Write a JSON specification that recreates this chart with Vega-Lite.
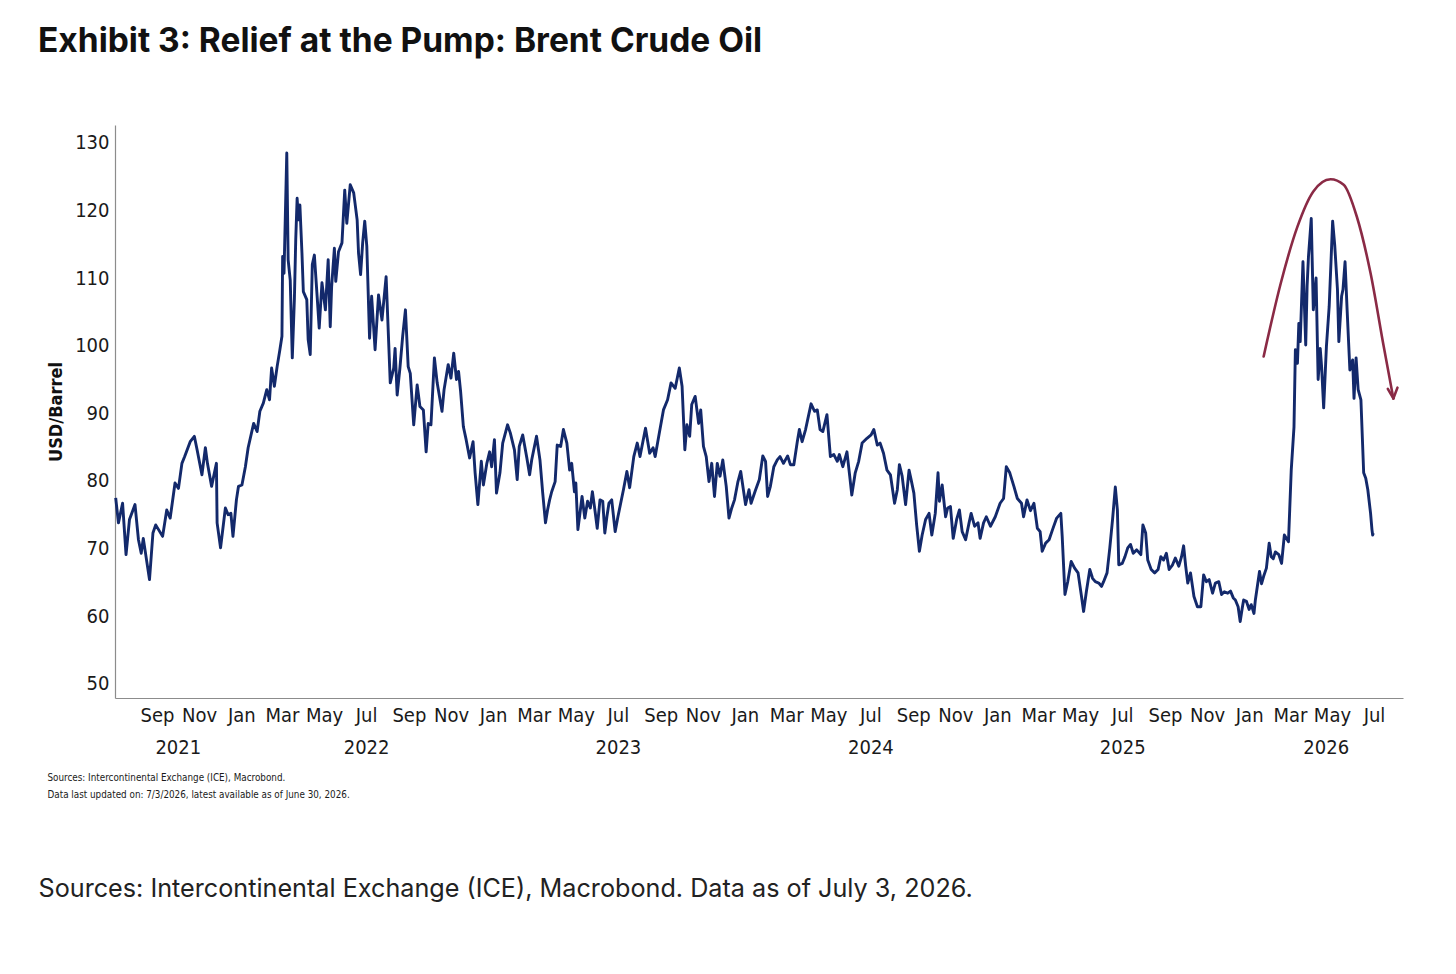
{
  "$schema": "https://vega.github.io/schema/vega-lite/v6.json",
  "autosize": {"type": "none"},
  "width": 1288,
  "height": 573,
  "padding": {"left": 115, "top": 125, "right": 53, "bottom": 276},
  "background": "white",
  "config": {"view": {"stroke": null}},
  "title": {
    "text": "Exhibit 3: Relief at the Pump: Brent Crude Oil",
    "anchor": "start",
    "frame": "group",
    "dx": -77,
    "offset": 40,
    "baseline": "alphabetic",
    "font": "Inter",
    "fontSize": 33.5,
    "fontWeight": 700,
    "color": "#111111"
  },
  "datasets": {
    "brent": [
      {"d":"2021-07-03","v":77.5},{"d":"2021-07-07","v":73.8},{"d":"2021-07-13","v":76.7},{"d":"2021-07-18","v":69.1},{"d":"2021-07-23","v":74.3},{"d":"2021-07-31","v":76.5},
      {"d":"2021-08-05","v":71.3},{"d":"2021-08-09","v":69.3},{"d":"2021-08-12","v":71.5},{"d":"2021-08-21","v":65.4},{"d":"2021-08-26","v":72.3},{"d":"2021-08-30","v":73.5},
      {"d":"2021-09-09","v":71.8},{"d":"2021-09-15","v":75.7},{"d":"2021-09-20","v":74.5},{"d":"2021-09-27","v":79.7},
      {"d":"2021-10-02","v":78.9},{"d":"2021-10-07","v":82.6},{"d":"2021-10-11","v":83.6},{"d":"2021-10-19","v":85.8},{"d":"2021-10-25","v":86.6},{"d":"2021-10-29","v":84.6},
      {"d":"2021-11-05","v":80.9},{"d":"2021-11-10","v":84.9},{"d":"2021-11-13","v":82.6},{"d":"2021-11-19","v":79.2},{"d":"2021-11-26","v":82.6},{"d":"2021-11-27","v":73.8},
      {"d":"2021-12-02","v":70.1},{"d":"2021-12-09","v":76.0},{"d":"2021-12-13","v":75.0},{"d":"2021-12-17","v":75.2},{"d":"2021-12-20","v":71.8},{"d":"2021-12-25","v":77.2},{"d":"2021-12-28","v":79.2},
      {"d":"2022-01-02","v":79.4},{"d":"2022-01-07","v":82.1},{"d":"2022-01-11","v":84.9},{"d":"2022-01-19","v":88.5},{"d":"2022-01-24","v":87.3},{"d":"2022-01-28","v":90.3},
      {"d":"2022-02-02","v":91.5},{"d":"2022-02-07","v":93.5},{"d":"2022-02-11","v":92.0},{"d":"2022-02-14","v":96.7},{"d":"2022-02-18","v":94.0},{"d":"2022-02-22","v":96.9},{"d":"2022-02-26","v":99.4},
      {"d":"2022-03-01","v":101.4},{"d":"2022-03-02","v":113.2},{"d":"2022-03-04","v":110.7},{"d":"2022-03-08","v":128.5},{"d":"2022-03-10","v":112.7},{"d":"2022-03-13","v":109.7},{"d":"2022-03-16","v":98.2},{"d":"2022-03-19","v":106.8},{"d":"2022-03-21","v":115.7},{"d":"2022-03-23","v":121.8},{"d":"2022-03-25","v":118.6},{"d":"2022-03-27","v":120.8},{"d":"2022-03-30","v":113.7},
      {"d":"2022-04-01","v":108.0},{"d":"2022-04-06","v":106.8},{"d":"2022-04-08","v":100.9},{"d":"2022-04-11","v":98.7},{"d":"2022-04-14","v":112.0},{"d":"2022-04-17","v":113.4},{"d":"2022-04-21","v":107.3},{"d":"2022-04-24","v":102.6},{"d":"2022-04-28","v":109.3},
      {"d":"2022-05-03","v":105.3},{"d":"2022-05-07","v":112.7},{"d":"2022-05-10","v":102.8},{"d":"2022-05-12","v":108.7},{"d":"2022-05-16","v":114.4},{"d":"2022-05-18","v":109.5},{"d":"2022-05-22","v":113.9},{"d":"2022-05-27","v":115.2},{"d":"2022-05-31","v":123.0},
      {"d":"2022-06-03","v":118.1},{"d":"2022-06-08","v":123.8},{"d":"2022-06-13","v":122.6},{"d":"2022-06-18","v":118.6},{"d":"2022-06-20","v":113.7},{"d":"2022-06-23","v":110.5},{"d":"2022-06-26","v":115.2},{"d":"2022-06-29","v":118.4},
      {"d":"2022-07-02","v":114.7},{"d":"2022-07-06","v":101.1},{"d":"2022-07-09","v":107.3},{"d":"2022-07-14","v":99.4},{"d":"2022-07-19","v":107.5},{"d":"2022-07-24","v":103.8},{"d":"2022-07-30","v":110.2},
      {"d":"2022-08-05","v":94.5},{"d":"2022-08-10","v":96.7},{"d":"2022-08-12","v":99.6},{"d":"2022-08-15","v":92.7},{"d":"2022-08-19","v":96.7},{"d":"2022-08-23","v":101.4},{"d":"2022-08-27","v":105.3},{"d":"2022-08-31","v":96.9},
      {"d":"2022-09-03","v":95.9},{"d":"2022-09-08","v":88.3},{"d":"2022-09-13","v":94.2},{"d":"2022-09-17","v":91.0},{"d":"2022-09-22","v":90.5},{"d":"2022-09-26","v":84.3},{"d":"2022-09-29","v":88.5},
      {"d":"2022-10-03","v":88.3},{"d":"2022-10-08","v":98.2},{"d":"2022-10-12","v":94.5},{"d":"2022-10-19","v":90.3},{"d":"2022-10-22","v":93.5},{"d":"2022-10-28","v":97.2},
      {"d":"2022-11-01","v":95.2},{"d":"2022-11-05","v":98.9},{"d":"2022-11-09","v":95.0},{"d":"2022-11-12","v":96.2},{"d":"2022-11-15","v":93.2},{"d":"2022-11-19","v":88.0},{"d":"2022-11-23","v":86.1},{"d":"2022-11-28","v":83.4},
      {"d":"2022-12-03","v":85.8},{"d":"2022-12-06","v":81.2},{"d":"2022-12-10","v":76.5},{"d":"2022-12-15","v":82.9},{"d":"2022-12-18","v":79.4},{"d":"2022-12-23","v":82.6},{"d":"2022-12-27","v":84.3},{"d":"2022-12-30","v":82.1},
      {"d":"2023-01-03","v":86.1},{"d":"2023-01-06","v":78.2},{"d":"2023-01-11","v":81.2},{"d":"2023-01-15","v":85.6},{"d":"2023-01-22","v":88.3},{"d":"2023-01-26","v":87.1},
      {"d":"2023-02-01","v":84.6},{"d":"2023-02-05","v":80.2},{"d":"2023-02-08","v":85.1},{"d":"2023-02-13","v":86.8},{"d":"2023-02-19","v":83.4},{"d":"2023-02-23","v":80.9},{"d":"2023-02-26","v":83.1},
      {"d":"2023-03-05","v":86.6},{"d":"2023-03-10","v":83.1},{"d":"2023-03-14","v":78.2},{"d":"2023-03-18","v":73.8},{"d":"2023-03-21","v":75.7},{"d":"2023-03-24","v":77.2},{"d":"2023-03-27","v":78.4},
      {"d":"2023-04-01","v":79.9},{"d":"2023-04-04","v":85.3},{"d":"2023-04-09","v":85.1},{"d":"2023-04-13","v":87.6},{"d":"2023-04-18","v":85.6},{"d":"2023-04-22","v":81.6},{"d":"2023-04-25","v":82.6},{"d":"2023-04-29","v":78.4},
      {"d":"2023-05-01","v":79.7},{"d":"2023-05-04","v":72.8},{"d":"2023-05-10","v":77.7},{"d":"2023-05-14","v":74.5},{"d":"2023-05-18","v":77.0},{"d":"2023-05-22","v":76.0},{"d":"2023-05-25","v":78.4},{"d":"2023-05-28","v":76.2},
      {"d":"2023-06-01","v":73.0},{"d":"2023-06-05","v":77.2},{"d":"2023-06-09","v":77.0},{"d":"2023-06-12","v":72.3},{"d":"2023-06-15","v":74.7},{"d":"2023-06-18","v":76.7},{"d":"2023-06-22","v":77.2},{"d":"2023-06-27","v":72.5},
      {"d":"2023-07-01","v":74.7},{"d":"2023-07-05","v":76.7},{"d":"2023-07-09","v":78.7},{"d":"2023-07-14","v":81.4},{"d":"2023-07-18","v":79.0},{"d":"2023-07-24","v":83.6},{"d":"2023-07-29","v":85.6},
      {"d":"2023-08-02","v":83.6},{"d":"2023-08-10","v":87.8},{"d":"2023-08-16","v":84.1},{"d":"2023-08-21","v":84.9},{"d":"2023-08-24","v":83.6},{"d":"2023-08-30","v":87.1},
      {"d":"2023-09-05","v":90.5},{"d":"2023-09-11","v":92.0},{"d":"2023-09-16","v":94.5},{"d":"2023-09-22","v":93.7},{"d":"2023-09-28","v":96.7},
      {"d":"2023-10-02","v":94.0},{"d":"2023-10-06","v":84.6},{"d":"2023-10-09","v":88.3},{"d":"2023-10-13","v":86.6},{"d":"2023-10-16","v":91.3},{"d":"2023-10-21","v":92.5},{"d":"2023-10-26","v":88.5},{"d":"2023-10-29","v":90.5},
      {"d":"2023-11-02","v":85.1},{"d":"2023-11-06","v":83.6},{"d":"2023-11-10","v":79.9},{"d":"2023-11-14","v":82.6},{"d":"2023-11-18","v":77.7},{"d":"2023-11-22","v":82.6},{"d":"2023-11-26","v":80.7},{"d":"2023-11-30","v":83.1},
      {"d":"2023-12-05","v":79.2},{"d":"2023-12-09","v":74.5},{"d":"2023-12-13","v":76.0},{"d":"2023-12-17","v":77.2},{"d":"2023-12-22","v":79.9},{"d":"2023-12-26","v":81.4},
      {"d":"2024-01-02","v":76.5},{"d":"2024-01-07","v":78.7},{"d":"2024-01-10","v":76.7},{"d":"2024-01-16","v":78.5},{"d":"2024-01-22","v":80.2},{"d":"2024-01-27","v":83.7},{"d":"2024-01-31","v":82.9},
      {"d":"2024-02-03","v":77.7},{"d":"2024-02-07","v":79.2},{"d":"2024-02-12","v":82.1},{"d":"2024-02-17","v":83.1},{"d":"2024-02-21","v":83.6},{"d":"2024-02-26","v":82.6},
      {"d":"2024-03-03","v":83.7},{"d":"2024-03-07","v":82.4},{"d":"2024-03-12","v":82.4},{"d":"2024-03-17","v":85.8},{"d":"2024-03-20","v":87.6},{"d":"2024-03-24","v":85.8},{"d":"2024-03-29","v":87.6},
      {"d":"2024-04-02","v":89.5},{"d":"2024-04-06","v":91.4},{"d":"2024-04-11","v":90.3},{"d":"2024-04-15","v":90.5},{"d":"2024-04-19","v":87.6},{"d":"2024-04-23","v":87.3},{"d":"2024-04-29","v":89.8},
      {"d":"2024-05-04","v":83.6},{"d":"2024-05-09","v":83.9},{"d":"2024-05-14","v":82.9},{"d":"2024-05-17","v":83.9},{"d":"2024-05-22","v":82.1},{"d":"2024-05-28","v":84.3},
      {"d":"2024-06-01","v":80.7},{"d":"2024-06-04","v":77.9},{"d":"2024-06-09","v":81.2},{"d":"2024-06-14","v":82.9},{"d":"2024-06-19","v":85.6},{"d":"2024-06-26","v":86.3},
      {"d":"2024-07-02","v":86.8},{"d":"2024-07-06","v":87.6},{"d":"2024-07-11","v":85.3},{"d":"2024-07-15","v":85.6},{"d":"2024-07-20","v":84.1},{"d":"2024-07-25","v":81.6},{"d":"2024-07-30","v":80.9},
      {"d":"2024-08-05","v":76.7},{"d":"2024-08-09","v":78.7},{"d":"2024-08-12","v":82.4},{"d":"2024-08-16","v":80.7},{"d":"2024-08-21","v":76.5},{"d":"2024-08-26","v":81.6},{"d":"2024-08-29","v":80.2},
      {"d":"2024-09-02","v":78.2},{"d":"2024-09-06","v":73.5},{"d":"2024-09-10","v":69.6},{"d":"2024-09-14","v":72.0},{"d":"2024-09-19","v":74.3},{"d":"2024-09-24","v":75.2},{"d":"2024-09-28","v":72.0},
      {"d":"2024-10-03","v":75.2},{"d":"2024-10-07","v":81.2},{"d":"2024-10-09","v":77.0},{"d":"2024-10-13","v":79.4},{"d":"2024-10-18","v":74.7},{"d":"2024-10-21","v":76.0},{"d":"2024-10-25","v":76.2},{"d":"2024-10-29","v":71.5},
      {"d":"2024-11-03","v":74.3},{"d":"2024-11-07","v":75.7},{"d":"2024-11-11","v":72.5},{"d":"2024-11-16","v":71.3},{"d":"2024-11-21","v":73.8},{"d":"2024-11-24","v":75.2},{"d":"2024-11-29","v":73.3},
      {"d":"2024-12-04","v":73.8},{"d":"2024-12-07","v":71.5},{"d":"2024-12-12","v":73.8},{"d":"2024-12-16","v":74.7},{"d":"2024-12-22","v":73.3},{"d":"2024-12-29","v":74.7},
      {"d":"2025-01-05","v":76.7},{"d":"2025-01-10","v":77.4},{"d":"2025-01-14","v":82.1},{"d":"2025-01-19","v":81.2},{"d":"2025-01-25","v":79.2},{"d":"2025-01-30","v":77.4},
      {"d":"2025-02-05","v":76.7},{"d":"2025-02-08","v":74.7},{"d":"2025-02-13","v":77.2},{"d":"2025-02-18","v":75.6},{"d":"2025-02-23","v":76.7},{"d":"2025-02-28","v":73.0},
      {"d":"2025-03-04","v":72.5},{"d":"2025-03-07","v":69.6},{"d":"2025-03-12","v":70.8},{"d":"2025-03-17","v":71.3},{"d":"2025-03-22","v":72.8},{"d":"2025-03-28","v":74.5},
      {"d":"2025-04-03","v":75.2},{"d":"2025-04-05","v":71.8},{"d":"2025-04-09","v":63.2},{"d":"2025-04-13","v":65.1},{"d":"2025-04-18","v":68.1},{"d":"2025-04-23","v":67.1},{"d":"2025-04-28","v":66.4},
      {"d":"2025-05-03","v":62.9},{"d":"2025-05-06","v":60.7},{"d":"2025-05-10","v":63.6},{"d":"2025-05-15","v":66.9},{"d":"2025-05-19","v":65.6},{"d":"2025-05-23","v":65.1},{"d":"2025-05-28","v":64.9},
      {"d":"2025-06-01","v":64.4},{"d":"2025-06-04","v":65.1},{"d":"2025-06-09","v":66.4},{"d":"2025-06-13","v":70.1},{"d":"2025-06-17","v":74.3},{"d":"2025-06-19","v":76.7},{"d":"2025-06-21","v":79.1},{"d":"2025-06-24","v":75.7},{"d":"2025-06-26","v":67.6},
      {"d":"2025-07-01","v":67.8},{"d":"2025-07-05","v":68.8},{"d":"2025-07-09","v":70.1},{"d":"2025-07-13","v":70.6},{"d":"2025-07-17","v":69.3},{"d":"2025-07-22","v":69.8},{"d":"2025-07-28","v":69.1},{"d":"2025-07-31","v":73.5},
      {"d":"2025-08-04","v":72.3},{"d":"2025-08-07","v":68.3},{"d":"2025-08-12","v":66.9},{"d":"2025-08-17","v":66.4},{"d":"2025-08-22","v":66.9},{"d":"2025-08-26","v":68.8},{"d":"2025-08-30","v":68.3},
      {"d":"2025-09-03","v":69.3},{"d":"2025-09-07","v":66.9},{"d":"2025-09-12","v":67.6},{"d":"2025-09-16","v":68.6},{"d":"2025-09-21","v":67.4},{"d":"2025-09-25","v":68.8},{"d":"2025-09-28","v":70.4},
      {"d":"2025-10-01","v":67.4},{"d":"2025-10-04","v":64.9},{"d":"2025-10-08","v":66.4},{"d":"2025-10-13","v":62.9},{"d":"2025-10-18","v":61.4},{"d":"2025-10-23","v":61.4},{"d":"2025-10-27","v":66.1},{"d":"2025-10-31","v":65.1},
      {"d":"2025-11-04","v":65.4},{"d":"2025-11-09","v":63.4},{"d":"2025-11-13","v":64.9},{"d":"2025-11-18","v":65.1},{"d":"2025-11-22","v":63.2},{"d":"2025-11-26","v":63.6},
      {"d":"2025-12-01","v":63.4},{"d":"2025-12-05","v":63.7},{"d":"2025-12-09","v":62.7},{"d":"2025-12-12","v":62.4},{"d":"2025-12-16","v":61.4},{"d":"2025-12-19","v":59.2},{"d":"2025-12-22","v":61.2},{"d":"2025-12-24","v":62.4},{"d":"2025-12-28","v":62.2},
      {"d":"2026-01-01","v":61.0},{"d":"2026-01-04","v":61.7},{"d":"2026-01-08","v":60.4},{"d":"2026-01-10","v":62.4},{"d":"2026-01-13","v":64.5},{"d":"2026-01-16","v":66.6},{"d":"2026-01-19","v":64.8},{"d":"2026-01-22","v":65.9},{"d":"2026-01-26","v":67.1},{"d":"2026-01-30","v":70.8},
      {"d":"2026-02-02","v":68.8},{"d":"2026-02-05","v":68.5},{"d":"2026-02-08","v":69.5},{"d":"2026-02-13","v":69.1},{"d":"2026-02-17","v":67.8},{"d":"2026-02-21","v":72.0},{"d":"2026-02-27","v":71.0},
      {"d":"2026-03-03","v":81.6},{"d":"2026-03-07","v":88.0},{"d":"2026-03-09","v":99.4},{"d":"2026-03-12","v":97.4},{"d":"2026-03-14","v":103.3},{"d":"2026-03-16","v":100.6},{"d":"2026-03-20","v":112.4},{"d":"2026-03-24","v":100.1},{"d":"2026-03-26","v":108.8},{"d":"2026-03-28","v":113.2},
      {"d":"2026-04-01","v":118.8},{"d":"2026-04-04","v":105.3},{"d":"2026-04-08","v":110.0},{"d":"2026-04-11","v":95.0},{"d":"2026-04-14","v":99.6},{"d":"2026-04-16","v":96.9},{"d":"2026-04-19","v":90.8},{"d":"2026-04-23","v":99.9},{"d":"2026-04-27","v":105.8},
      {"d":"2026-05-02","v":118.4},{"d":"2026-05-05","v":114.9},{"d":"2026-05-09","v":108.3},{"d":"2026-05-11","v":100.6},{"d":"2026-05-15","v":107.3},{"d":"2026-05-17","v":108.3},{"d":"2026-05-20","v":112.4},{"d":"2026-05-23","v":105.3},{"d":"2026-05-27","v":96.4},{"d":"2026-05-31","v":97.9},
      {"d":"2026-06-02","v":92.2},{"d":"2026-06-05","v":98.2},{"d":"2026-06-08","v":93.5},{"d":"2026-06-12","v":92.0},{"d":"2026-06-16","v":81.2},{"d":"2026-06-19","v":80.4},{"d":"2026-06-22","v":78.7},{"d":"2026-06-26","v":75.2},{"d":"2026-06-28","v":72.8},{"d":"2026-06-29","v":72.0},{"d":"2026-06-30","v":72.3}
    ],
    "arrow": [
      {"d":"2026-01-22","v":98.4,"s":"arc"},{"d":"2026-02-16","v":109.3,"s":"arc"},{"d":"2026-03-12","v":117.6,"s":"arc"},{"d":"2026-04-04","v":122.8,"s":"arc"},{"d":"2026-04-29","v":124.6,"s":"arc"},{"d":"2026-05-18","v":123.8,"s":"arc"},{"d":"2026-06-06","v":119.1,"s":"arc"},{"d":"2026-06-26","v":110.7,"s":"arc"},{"d":"2026-07-15","v":99.9,"s":"arc"},{"d":"2026-07-29","v":92.2,"s":"arc"},
      {"d":"2026-07-21","v":93.6,"s":"wa"},{"d":"2026-07-29","v":92.2,"s":"wa"},
      {"d":"2026-07-29","v":92.2,"s":"wb"},{"d":"2026-08-04","v":93.8,"s":"wb"}
    ]
  },
  "layer": [
    {
      "data": {"name": "brent"},
      "mark": {"type": "line", "color": "#13296b", "strokeWidth": 2.9, "strokeJoin": "round"},
      "encoding": {
        "x": {
          "field": "d", "type": "temporal",
          "scale": {"domain": [{"year": 2021, "month": 7, "date": 2}, {"year": 2026, "month": 8, "date": 12}]},
          "axis": {
            "orient": "bottom",
            "tickCount": {"interval": "month", "step": 2},
            "format": "%b",
            "grid": false, "ticks": false, "tickSize": 0,
            "domainColor": "#8c8c8c", "domainWidth": 1.2,
            "labelFont": "DejaVu Sans Condensed, Liberation Sans Narrow, Liberation Sans, sans-serif", "labelFontSize": 20, "labelColor": "#1a1a1a",
            "labelPadding": 7, "labelOverlap": false, "labelFlush": false,
            "title": ["Sources: Intercontinental Exchange (ICE), Macrobond.", "Data last updated on: 7/3/2026, latest available as of June 30, 2026."],
            "titleFont": "DejaVu Sans Condensed, Liberation Sans Narrow, Liberation Sans, sans-serif", "titleFontSize": 9.8, "titleFontWeight": "normal", "titleColor": "#1a1a1a",
            "titleAnchor": "start", "titleAlign": "left", "titleBaseline": "top",
            "titleX": -68, "titleY": 74, "titleLineHeight": 17
          }
        },
        "y": {
          "field": "v", "type": "quantitative",
          "scale": {"domain": [47.9, 132.63], "nice": false, "zero": false},
          "axis": {
            "values": [50, 60, 70, 80, 90, 100, 110, 120, 130],
            "grid": false, "ticks": false, "tickSize": 0,
            "domainColor": "#8c8c8c", "domainWidth": 1.2,
            "labelFont": "DejaVu Sans Condensed, Liberation Sans Narrow, Liberation Sans, sans-serif", "labelFontSize": 20, "labelColor": "#1a1a1a", "labelPadding": 6,
            "title": "USD/Barrel",
            "titleFont": "DejaVu Sans Condensed, Liberation Sans Narrow, Liberation Sans, sans-serif", "titleFontSize": 18, "titleFontWeight": "bold", "titleColor": "#111111",
            "titlePadding": 9
          }
        }
      }
    },
    {
      "data": {"name": "arrow"},
      "mark": {"type": "line", "color": "#8a2a45", "strokeWidth": 2.6, "interpolate": "monotone", "strokeCap": "round"},
      "encoding": {
        "x": {
          "field": "d", "type": "temporal",
          "axis": {
            "orient": "bottom",
            "values": [{"year": 2021, "month": 10, "date": 1}, {"year": 2022, "month": 7, "date": 1}, {"year": 2023, "month": 7, "date": 1}, {"year": 2024, "month": 7, "date": 1}, {"year": 2025, "month": 7, "date": 1}, {"year": 2026, "month": 4, "date": 22}],
            "format": "%Y",
            "grid": false, "ticks": false, "tickSize": 0, "domain": false,
            "labelFont": "DejaVu Sans Condensed, Liberation Sans Narrow, Liberation Sans, sans-serif", "labelFontSize": 20, "labelColor": "#1a1a1a",
            "labelPadding": 39, "labelOverlap": false, "labelFlush": false,
            "title": "Sources: Intercontinental Exchange (ICE), Macrobond. Data as of July 3, 2026.",
            "titleFont": "Inter", "titleFontSize": 25.2, "titleFontWeight": "normal", "titleColor": "#222222",
            "titleAnchor": "start", "titleAlign": "left", "titleBaseline": "alphabetic",
            "titleX": -77, "titleY": 198
          }
        },
        "y": {"field": "v", "type": "quantitative"},
        "detail": {"field": "s", "type": "nominal"}
      }
    }
  ],
  "resolve": {"axis": {"x": "independent"}}
}
